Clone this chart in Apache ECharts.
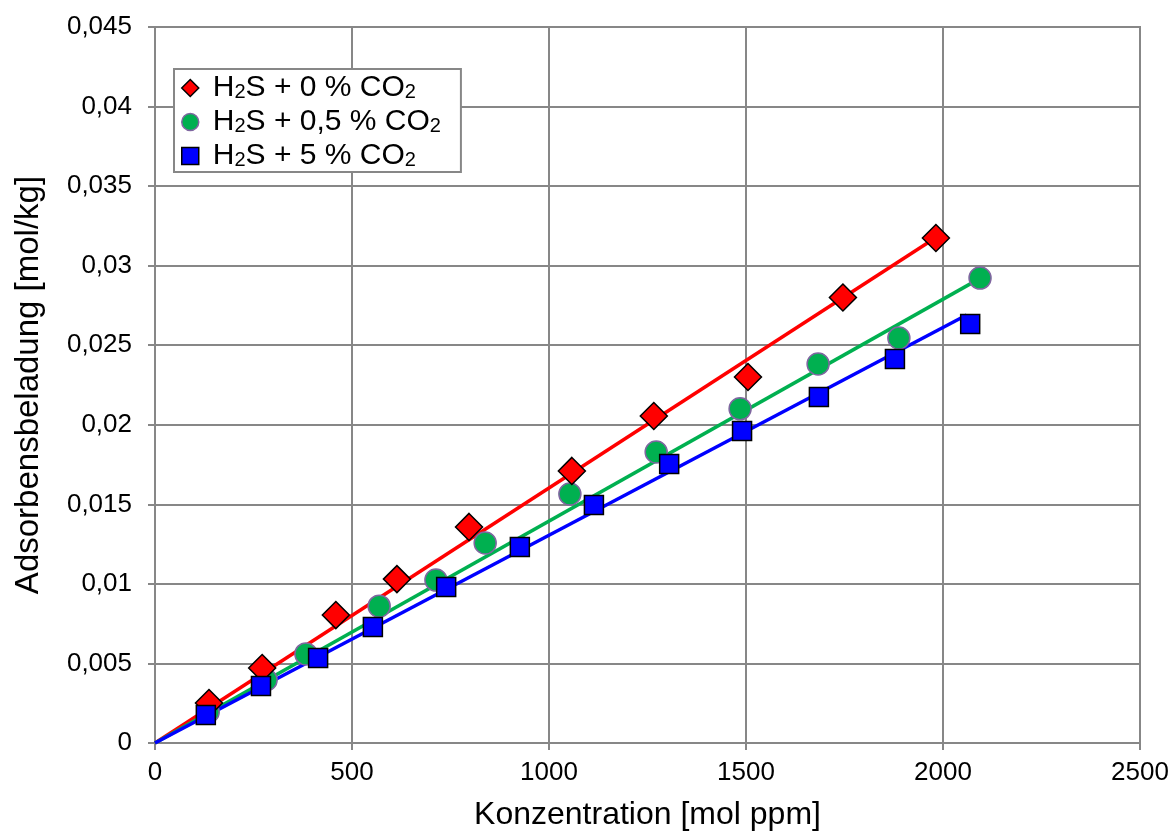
<!DOCTYPE html>
<html><head><meta charset="utf-8">
<script src="https://cdn.jsdelivr.net/npm/echarts@6/dist/echarts.min.js"></script>
<style>html,body{margin:0;padding:0;background:#fff}#c{width:1172px;height:832px}</style>
</head><body><div id="c"></div>
<script>
const seriesNames = ['H2S + 0 % CO2', 'H2S + 0,5 % CO2', 'H2S + 5 % CO2'];
const legendRich = ['{f|H}{sub|2}{n|S + 0 % CO}{sub|2}', '{f|H}{sub|2}{n|S + 0,5 % CO}{sub|2}', '{f|H}{sub|2}{n|S + 5 % CO}{sub|2}'];
const red = [[137,0.00251],[272,0.00471],[459,0.00804],[614,0.0103],[797,0.01358],[1058,0.0171],[1266,0.02055],[1505,0.0230],[1746,0.0280],[1982,0.03174]];
const green = [[135,0.00195],[282,0.00396],[383,0.0056],[569,0.0086],[713,0.01024],[838,0.01257],[1053,0.01565],[1272,0.01829],[1485,0.0210],[1683,0.02382],[1888,0.02545],[2094,0.02922]];
const blue = [[129,0.00176],[269,0.00358],[414,0.00534],[553,0.00729],[739,0.0098],[926,0.01232],[1114,0.01496],[1305,0.01753],[1490,0.01961],[1685,0.02175],[1878,0.02413],[2069,0.02633]];
const redFit = [[0,0],[1990,0.0319]];
const greenFit = [[0,0],[2094,0.0292]];
const blueFit = [[0,0],[2060,0.0269]];
const xTicks = [0,500,1000,1500,2000,2500];
const yTicks = [0,0.005,0.01,0.015,0.02,0.025,0.03,0.035,0.04,0.045];

const gridCol = '#878787';
const FF = 'Liberation Sans, Arial, sans-serif';
const chart = echarts.init(document.getElementById('c'));
const fmtY = v => { if (v === 0) return '0'; return (Math.round(v*1000)/1000).toString().replace('.', ','); };
const lineSeries = (data, color) => ({type:'line', data, symbol:'none', lineStyle:{color, width:3.5}, z:2, silent:true, legendHoverLink:false});
chart.setOption({
  animation:false,
  backgroundColor:'#fff',
  textStyle:{fontFamily:FF},
  grid:{left:155, right:32, top:27, bottom:89, containLabel:false, outerBoundsMode:'none', show:true, borderColor:gridCol, borderWidth:2},
  xAxis:{type:'value', min:0, max:2500, interval:500,
    name:'Konzentration [mol ppm]', nameLocation:'middle', nameGap:56,
    nameTextStyle:{fontSize:32, color:'#000', fontFamily:FF},
    axisLine:{show:true, lineStyle:{color:gridCol, width:2}},
    axisTick:{show:true, length:7, lineStyle:{color:gridCol, width:2}},
    axisLabel:{fontSize:26, color:'#000', margin:17, formatter: v => String(v)},
    splitLine:{show:true, lineStyle:{color:gridCol, width:2}}},
  yAxis:{type:'value', min:0, max:0.045, interval:0.005,
    name:'Adsorbensbeladung [mol/kg]', nameLocation:'middle', nameGap:110, nameRotate:90,
    nameTextStyle:{fontSize:33, color:'#000', fontFamily:FF},
    axisLine:{show:true, lineStyle:{color:gridCol, width:2}},
    axisTick:{show:true, length:7, lineStyle:{color:gridCol, width:2}},
    axisLabel:{fontSize:26, color:'#000', margin:23, formatter: fmtY},
    splitLine:{show:true, lineStyle:{color:gridCol, width:2}}},
  legend:{
    left:174, top:69, orient:'vertical', itemGap:4, itemWidth:17, itemHeight:17,
    padding:[4,20,1,7],
    backgroundColor:'#fff', borderColor:gridCol, borderWidth:2, borderRadius:0,
    data:[
      {name:seriesNames[0], icon:'diamond', itemStyle:{color:'#ff0000', borderColor:'#000', borderWidth:1.5}},
      {name:seriesNames[1], icon:'circle', itemStyle:{color:'#00b050', borderColor:'#7f66a0', borderWidth:1.5}},
      {name:seriesNames[2], icon:'rect', itemStyle:{color:'#0000ff', borderColor:'#000', borderWidth:1.5}}
    ],
    formatter: n => legendRich[seriesNames.indexOf(n)],
    textStyle:{fontSize:30, color:'#000', lineHeight:28,
      rich:{
        f:{fontSize:30, lineHeight:28, padding:[0,0,0,9], color:'#000', fontFamily:FF},
        n:{fontSize:30, lineHeight:28, color:'#000', fontFamily:FF},
        sub:{fontSize:20, lineHeight:28, verticalAlign:'bottom', color:'#000', fontFamily:FF}}}
  },
  series:[
    lineSeries(redFit, '#ff0000'),
    lineSeries(greenFit, '#00b050'),
    lineSeries(blueFit, '#0000ff'),
    {name:seriesNames[0], type:'scatter', data:red, symbol:'diamond', symbolSize:27, z:5,
      itemStyle:{color:'#ff0000', borderColor:'#000', borderWidth:1.5, opacity:1}},
    {name:seriesNames[1], type:'scatter', data:green, symbol:'circle', symbolSize:22, z:4,
      itemStyle:{color:'#00b050', borderColor:'#7f66a0', borderWidth:1.5, opacity:1}},
    {name:seriesNames[2], type:'scatter', data:blue, symbol:'rect', symbolSize:19, z:6,
      itemStyle:{color:'#0000ff', borderColor:'#000', borderWidth:1.5, opacity:1}}
  ]
});
</script></body></html>
